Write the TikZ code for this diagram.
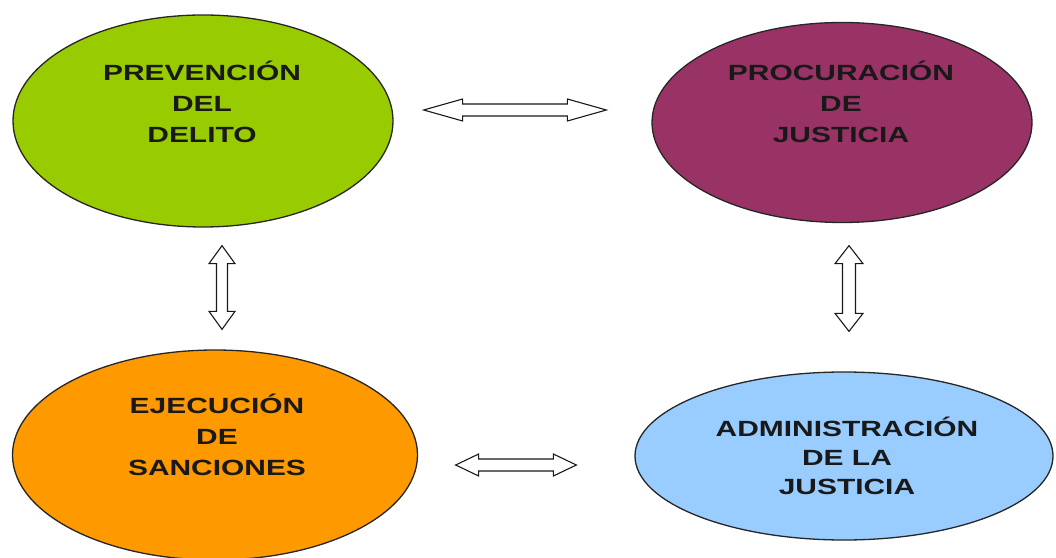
\documentclass[tikz,border=0pt]{standalone}
\usepackage{fontspec}
\newfontfamily\lblfont{Liberation Sans}[FakeStretch=1.36]
\usetikzlibrary{shapes.geometric,calc}
\definecolor{cgreen}{RGB}{153,204,0}
\definecolor{cpurple}{RGB}{153,51,102}
\definecolor{corange}{RGB}{255,153,0}
\definecolor{cblue}{RGB}{153,204,255}
\tikzset{
  oval/.style={ellipse, draw=black!85, line width=1.3pt, inner sep=0pt},
  txt/.style={align=center, text=black!90, inner sep=0pt,
    font=\lblfont\bfseries\fontsize{22}{31}\selectfont},
  darr/.style args={#1/#2/#3}{draw=black!90, line width=1.1pt, fill=white, line join=miter,
    to path={let \p1=(\tikztostart), \p2=(\tikztotarget) in
      (\p1) -- ($(\p1)!#1!(\p2)!#2!90:(\p2)$) -- ($(\p1)!#1!(\p2)!#3!90:(\p2)$)
      -- ($(\p2)!#1!(\p1)!#3!-90:(\p1)$) -- ($(\p2)!#1!(\p1)!#2!-90:(\p1)$)
      -- (\p2) -- ($(\p2)!#1!(\p1)!#2!90:(\p1)$) -- ($(\p2)!#1!(\p1)!#3!90:(\p1)$)
      -- ($(\p1)!#1!(\p2)!#3!-90:(\p2)$) -- ($(\p1)!#1!(\p2)!#2!-90:(\p2)$) -- cycle}}
}
\begin{document}
\begin{tikzpicture}[x=1pt,y=1pt]
\fill[white] (0,0) rectangle (1056,557);
\useasboundingbox (0,0) rectangle (1056,557);

\node[oval, fill=cgreen, minimum width=380, minimum height=212] (pd) at (203,436) {};
\node[oval, fill=cpurple, minimum width=380, minimum height=200] (pj) at (842,434.5) {};
\node[oval, fill=corange, minimum width=405, minimum height=210] (es) at (215,102) {};
\node[oval, fill=cblue, minimum width=418, minimum height=168] (aj) at (844,101) {};

\node[txt] (pdt) at ([shift={(-1,19)}]pd.center) {PREVENCIÓN\\DEL\\DELITO};
\node[txt] (pjt) at ([shift={(-1,21)}]pj.center) {PROCURACIÓN\\DE\\JUSTICIA};
\node[txt] (est) at ([shift={(2,20)}]es.center) {EJECUCIÓN\\DE\\SANCIONES};
\node[txt, font=\lblfont\bfseries\fontsize{22}{29}\selectfont] (ajt) at ([shift={(3,0)}]aj.center) {ADMINISTRACIÓN\\DE LA\\JUSTICIA};

\draw[darr=39pt/11pt/6pt] ([shift={(30,11)}]pd.east) to ([shift={(-45,12.5)}]pj.west);
\draw[darr=18pt/13pt/5.5pt] ([shift={(19,-18)}]pd.south) to ([shift={(7,20)}]es.north);
\draw[darr=18pt/14pt/6.5pt] ([shift={(7,-22.5)}]pj.south) to ([shift={(5,40)}]aj.north);
\draw[darr=23pt/11pt/6pt] ([shift={(37.5,-10)}]es.east) to ([shift={(-58,-9)}]aj.west);
\end{tikzpicture}
\end{document}
